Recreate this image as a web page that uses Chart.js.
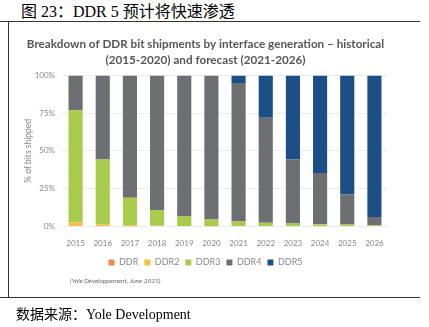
<!DOCTYPE html>
<html>
<head>
<meta charset="utf-8">
<script src="https://cdn.jsdelivr.net/npm/chart.js@4"></script>
<style>
  body { margin: 0; background: #fff; width: 429px; height: 327px; position: relative; overflow: hidden; }
  #wrap { position: absolute; left: 0; top: 0; width: 429px; height: 327px; }
  .hdr { position: absolute; left: 21px; top: -2px; font: 16px "Liberation Serif", "Noto Sans CJK SC", serif; color: #000; white-space: nowrap; }
  .line-h { position: absolute; height: 1px; background: #333; left: 0; width: 420px; }
  .line-v { position: absolute; width: 1px; background: #333; left: 8px; top: 21px; height: 276px; }
  .note { position: absolute; left: 70px; top: 277px; font: italic 6.5px Lato, sans-serif; color: #666; }
  .ftr { position: absolute; left: 16px; top: 303px; font: 14px "Liberation Serif", "Noto Sans CJK SC", serif; color: #000; white-space: nowrap; }
</style>
</head>
<body>
<div class="hdr">图 23：DDR 5 预计将快速渗透</div>
<div class="line-h" style="top:21px"></div>
<div class="line-v"></div>
<div id="wrap"><canvas id="chart" width="429" height="327"></canvas></div>
<div class="note">(Yole Développement, June 2021)</div>
<div class="line-h" style="top:297px"></div>
<div class="ftr">数据来源：Yole Development</div>
<script>
const years = ['2015', '2016', '2017', '2018', '2019', '2020', '2021', '2022', '2023', '2024', '2025', '2026'];
const ddr  = [0.5, 0.2, 0.1, 0, 0, 0, 0, 0, 0, 0, 0, 0];
const ddr2 = [2.3, 1.3, 0.7, 0.5, 0.2, 0.1, 0, 0, 0, 0, 0, 0];
const ddr3 = [74.2, 42.8, 18.2, 10.3, 6.3, 4.4, 3.2, 2.5, 2.0, 1.5, 1.2, 0.8];
const ddr4 = [23.0, 55.7, 81.0, 89.2, 93.5, 95.5, 91.8, 69.5, 42.3, 33.8, 20.1, 5.5];
const ddr5 = [0, 0, 0, 0, 0, 0, 5.0, 28.0, 55.7, 64.7, 78.7, 93.7];
const yTicks = [0, 25, 50, 75, 100];

const seriesNames = ['DDR', 'DDR2', 'DDR3', 'DDR4', 'DDR5'];
const seriesData = [ddr, ddr2, ddr3, ddr4, ddr5];
const seriesColors = ['#f0894c', '#f4c242', '#a9cb4b', '#6d6f72', '#1d4f87'];

const tickFont = { family: 'Lato, "Open Sans", sans-serif', size: 8 };

new Chart(document.getElementById('chart'), {
  type: 'bar',
  data: {
    labels: years,
    datasets: seriesNames.map((name, i) => ({
      label: name,
      data: seriesData[i],
      backgroundColor: seriesColors[i],
      borderWidth: 0,
      barPercentage: 0.52,
      categoryPercentage: 1
    }))
  },
  options: {
    responsive: false,
    animation: false,
    layout: { padding: { top: 37, left: 23, right: 41, bottom: 50 } },
    plugins: {
      title: {
        display: true,
        text: ['Breakdown of DDR bit shipments by interface generation – historical', '(2015-2020) and forecast (2021-2026)'],
        color: '#555',
        font: { family: 'Lato, "Open Sans", sans-serif', size: 11.7, weight: 'bold', lineHeight: 1.3 },
        padding: { top: 0, bottom: 8 }
      },
      legend: {
        position: 'bottom',
        labels: {
          color: '#888',
          font: { family: 'Lato, "Open Sans", sans-serif', size: 9 },
          boxWidth: 6,
          boxHeight: 6,
          padding: 6
        }
      },
      tooltip: { enabled: false }
    },
    scales: {
      x: {
        stacked: true,
        grid: { display: false },
        border: { display: false },
        ticks: { color: '#888', font: tickFont, padding: 4 }
      },
      y: {
        stacked: true,
        min: 0,
        max: 100,
        afterBuildTicks: axis => { axis.ticks = yTicks.map(v => ({ value: v })); },
        afterFit: axis => { axis.width = 39; },
        grid: { color: '#ececec', drawTicks: false },
        border: { display: false },
        ticks: { color: '#888', font: tickFont, padding: 7, callback: v => v + '%' },
        title: { display: true, text: '% of bits shipped', color: '#888', font: { family: 'Lato, "Open Sans", sans-serif', size: 8.5 }, padding: 0 }
      }
    }
  }
});
</script>
</body>
</html>
